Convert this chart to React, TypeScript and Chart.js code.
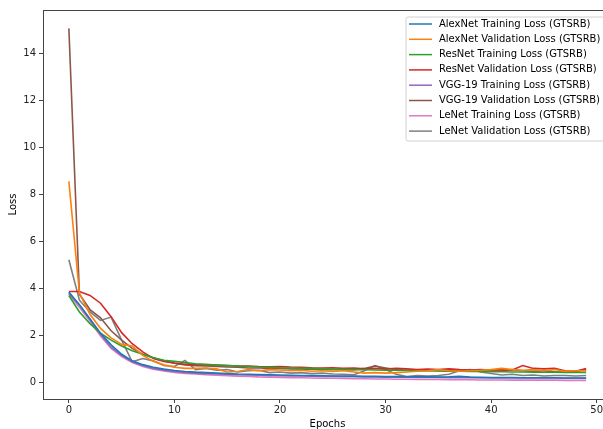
import React, { useEffect, useRef } from "react";
import { Chart, registerables } from "chart.js";

Chart.register(...registerables);

const epochs: number[] = Array.from({ length: 50 }, (_, i) => i);

const alexTrain = [3.85, 3.3, 2.7, 2.1, 1.6, 1.2, 0.92, 0.76, 0.65, 0.57, 0.51, 0.47, 0.44, 0.42, 0.4, 0.38, 0.36, 0.35, 0.34, 0.33, 0.32, 0.31, 0.3, 0.3, 0.29, 0.28, 0.28, 0.27, 0.26, 0.26, 0.25, 0.25, 0.24, 0.24, 0.24, 0.23, 0.24, 0.26, 0.23, 0.22, 0.21, 0.21, 0.21, 0.2, 0.2, 0.2, 0.2, 0.19, 0.19, 0.19];
const alexVal = [8.55, 3.8, 2.9, 2.3, 1.9, 1.62, 1.55, 1.15, 0.9, 0.75, 0.65, 0.6, 0.6, 0.62, 0.58, 0.45, 0.47, 0.55, 0.5, 0.55, 0.53, 0.5, 0.52, 0.48, 0.5, 0.47, 0.5, 0.45, 0.4, 0.42, 0.4, 0.42, 0.45, 0.48, 0.5, 0.55, 0.5, 0.48, 0.5, 0.52, 0.55, 0.6, 0.55, 0.52, 0.55, 0.5, 0.55, 0.48, 0.5, 0.5];
const resTrain = [3.7, 3.0, 2.5, 2.1, 1.8, 1.55, 1.35, 1.2, 1.05, 0.95, 0.9, 0.85, 0.8, 0.77, 0.74, 0.72, 0.7, 0.68, 0.66, 0.65, 0.63, 0.62, 0.6, 0.6, 0.58, 0.57, 0.56, 0.55, 0.54, 0.53, 0.52, 0.52, 0.51, 0.5, 0.5, 0.49, 0.48, 0.48, 0.47, 0.47, 0.46, 0.46, 0.45, 0.45, 0.44, 0.44, 0.44, 0.43, 0.43, 0.43];
const resVal = [3.87, 3.87, 3.7, 3.37, 2.8, 2.12, 1.65, 1.3, 1.02, 0.9, 0.83, 0.78, 0.76, 0.75, 0.74, 0.72, 0.7, 0.7, 0.68, 0.67, 0.68, 0.66, 0.65, 0.63, 0.62, 0.63, 0.6, 0.62, 0.58, 0.6, 0.57, 0.6, 0.58, 0.55, 0.57, 0.55, 0.58, 0.55, 0.53, 0.55, 0.52, 0.55, 0.53, 0.72, 0.6, 0.58, 0.6, 0.5, 0.48, 0.6];
const vggTrain = [3.8, 3.3, 2.7, 2.05, 1.5, 1.15, 0.88, 0.72, 0.6, 0.52, 0.47, 0.43, 0.4, 0.38, 0.36, 0.35, 0.33, 0.32, 0.31, 0.3, 0.29, 0.28, 0.28, 0.27, 0.26, 0.26, 0.25, 0.25, 0.24, 0.24, 0.23, 0.23, 0.23, 0.22, 0.22, 0.22, 0.21, 0.21, 0.21, 0.2, 0.2, 0.2, 0.2, 0.19, 0.19, 0.19, 0.19, 0.18, 0.18, 0.18];
const vggVal = [15.05, 3.75, 3.1, 2.75, 2.2, 1.8, 1.45, 1.2, 1.05, 0.92, 0.82, 0.75, 0.72, 0.7, 0.68, 0.66, 0.65, 0.62, 0.62, 0.6, 0.6, 0.58, 0.57, 0.58, 0.55, 0.55, 0.54, 0.55, 0.6, 0.7, 0.62, 0.55, 0.52, 0.5, 0.52, 0.5, 0.5, 0.48, 0.52, 0.5, 0.48, 0.5, 0.55, 0.5, 0.48, 0.5, 0.45, 0.45, 0.47, 0.55];
const lenetTrain = [3.75, 3.2, 2.6, 1.98, 1.45, 1.1, 0.85, 0.68, 0.57, 0.49, 0.43, 0.39, 0.36, 0.33, 0.31, 0.29, 0.27, 0.26, 0.24, 0.23, 0.22, 0.21, 0.2, 0.19, 0.18, 0.18, 0.17, 0.16, 0.16, 0.15, 0.15, 0.14, 0.14, 0.13, 0.13, 0.13, 0.12, 0.12, 0.12, 0.11, 0.11, 0.11, 0.1, 0.1, 0.1, 0.1, 0.1, 0.09, 0.09, 0.09];
const lenetVal = [5.22, 3.5, 3.0, 2.64, 2.78, 1.8, 0.88, 1.02, 0.92, 0.72, 0.68, 0.94, 0.55, 0.6, 0.52, 0.55, 0.45, 0.5, 0.52, 0.42, 0.45, 0.4, 0.42, 0.38, 0.4, 0.36, 0.35, 0.33, 0.5, 0.72, 0.55, 0.35, 0.25, 0.3, 0.28, 0.3, 0.35, 0.5, 0.55, 0.45, 0.38, 0.32, 0.35, 0.3, 0.32, 0.28, 0.3, 0.3, 0.28, 0.3];

const seriesNames = [
  "AlexNet Training Loss (GTSRB)",
  "AlexNet Validation Loss (GTSRB)",
  "ResNet Training Loss (GTSRB)",
  "ResNet Validation Loss (GTSRB)",
  "VGG-19 Training Loss (GTSRB)",
  "VGG-19 Validation Loss (GTSRB)",
  "LeNet Training Loss (GTSRB)",
  "LeNet Validation Loss (GTSRB)",
];
const seriesValues = [alexTrain, alexVal, resTrain, resVal, vggTrain, vggVal, lenetTrain, lenetVal];
const seriesColors = ["#1f77b4", "#ff7f0e", "#2ca02c", "#d62728", "#9467bd", "#8c564b", "#e377c2", "#7f7f7f"];

const xTicks = [0, 10, 20, 30, 40, 50];
const yTicks = [0, 2, 4, 6, 8, 10, 12, 14];

const FONT = "DejaVu Sans";

const framePlugin = {
  id: "frameAndLegend",
  afterDraw(chart: any) {
    const { ctx, chartArea } = chart;
    ctx.save();
    ctx.strokeStyle = "#444";
    ctx.lineWidth = 1;
    ctx.strokeRect(
      Math.round(chartArea.left) + 0.5,
      Math.round(chartArea.top) + 0.5,
      Math.round(chartArea.right - chartArea.left),
      Math.round(chartArea.bottom - chartArea.top)
    );
    // legend
    const right = chartArea.right - 5;
    const left = right - 201;
    const top = 17;
    const height = 124;
    const r = 2;
    ctx.beginPath();
    ctx.moveTo(left + r, top);
    ctx.lineTo(right - r, top);
    ctx.arcTo(right, top, right, top + r, r);
    ctx.lineTo(right, top + height - r);
    ctx.arcTo(right, top + height, right - r, top + height, r);
    ctx.lineTo(left + r, top + height);
    ctx.arcTo(left, top + height, left, top + height - r, r);
    ctx.lineTo(left, top + r);
    ctx.arcTo(left, top, left + r, top, r);
    ctx.closePath();
    ctx.fillStyle = "rgba(255,255,255,0.8)";
    ctx.fill();
    ctx.strokeStyle = "#d0d0d0";
    ctx.stroke();
    ctx.font = `10px "${FONT}"`;
    ctx.textBaseline = "middle";
    ctx.textAlign = "left";
    seriesNames.forEach((name, i) => {
      const y = 24 + i * 15.3;
      ctx.strokeStyle = seriesColors[i];
      ctx.lineWidth = 1.5;
      ctx.beginPath();
      ctx.moveTo(left + 3, y);
      ctx.lineTo(left + 26, y);
      ctx.stroke();
      ctx.fillStyle = "#000";
      ctx.fillText(name, left + 33, y);
    });
    ctx.restore();
  },
};

export default function App() {
  const canvasRef = useRef<HTMLCanvasElement | null>(null);
  useEffect(() => {
    if (!canvasRef.current) return;
    const chart = new Chart(canvasRef.current, {
      type: "line",
      data: {
        datasets: seriesNames.map((name, i) => ({
          label: name,
          data: epochs.map((e, j) => ({ x: e, y: seriesValues[i][j] })),
          borderColor: seriesColors[i],
          backgroundColor: seriesColors[i],
          borderWidth: 1.6,
          pointRadius: 0,
          tension: 0,
          fill: false,
        })),
      },
      options: {
        animation: false,
        responsive: false,
        devicePixelRatio: 1,
        layout: { padding: { left: 0, top: 10, right: 13, bottom: 0 } },
        plugins: { legend: { display: false }, tooltip: { enabled: false } },
        scales: {
          x: {
            type: "linear",
            min: -2.45,
            max: 51.45,
            afterBuildTicks: (scale: any) => {
              scale.ticks = xTicks.map((v) => ({ value: v }));
            },
            afterFit: (scale: any) => {
              scale.height = 30;
            },
            grid: { display: true, drawOnChartArea: false, drawTicks: true, tickLength: 4, color: "#444" },
            border: { display: false },
            ticks: { font: { family: FONT, size: 10 }, color: "#222", padding: 1, maxRotation: 0, autoSkip: false },
            title: { display: true, text: "Epochs", font: { family: FONT, size: 10 }, color: "#000", padding: { top: 0, bottom: -1 } },
          },
          y: {
            type: "linear",
            min: -0.7,
            max: 15.83,
            afterBuildTicks: (scale: any) => {
              scale.ticks = yTicks.map((v) => ({ value: v }));
            },
            afterFit: (scale: any) => {
              scale.width = 43;
            },
            grid: { display: true, drawOnChartArea: false, drawTicks: true, tickLength: 4, color: "#444" },
            border: { display: false },
            ticks: { font: { family: FONT, size: 10 }, color: "#222", padding: 3, autoSkip: false },
            title: { display: true, text: "Loss", font: { family: FONT, size: 10 }, color: "#000", padding: { top: 7, bottom: 0 } },
          },
        },
      },
      plugins: [framePlugin],
    });
    return () => chart.destroy();
  }, []);
  return (
    <div style={{ position: "absolute", left: 0, top: 0, width: 603, height: 429, overflow: "hidden", background: "#fff" }}>
      <canvas ref={canvasRef} width={625} height={429} style={{ display: "block" }} />
    </div>
  );
}
